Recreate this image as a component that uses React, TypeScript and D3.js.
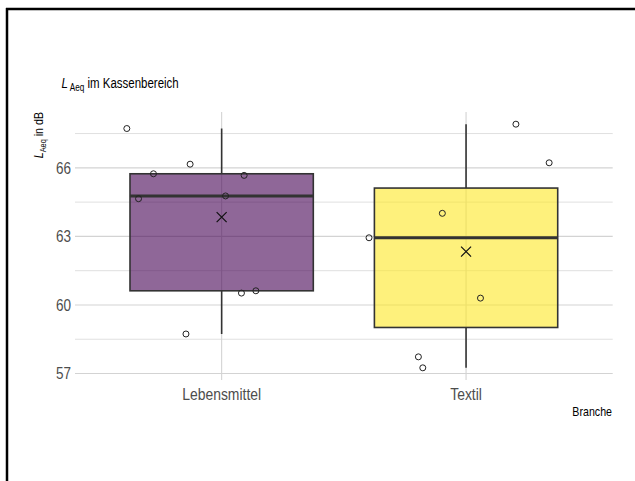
import React from "react";
import * as d3 from "d3";

// Measured L_Aeq values (dB) per branch, with fixed horizontal jitter offsets (in category-step units)
const categories = ["Lebensmittel", "Textil"];
const lebensmittelValues = [67.72, 65.74, 66.16, 65.67, 64.65, 64.77, 60.52, 60.62, 58.73];
const lebensmittelJitter = [-0.388, -0.279, -0.129, 0.092, -0.34, 0.016, 0.081, 0.14, -0.146];
const textilValues = [67.91, 66.22, 64.01, 62.94, 60.3, 57.73, 57.25];
const textilJitter = [0.204, 0.34, -0.097, -0.397, 0.059, -0.195, -0.177];
const yTicks = [57, 60, 63, 66];
const yMinorTicks = [58.5, 61.5, 64.5, 67.5];
const fills = ["#440154", "#FDE725"];

const W = 635;
const H = 481;
const panel = { left: 75, right: 612.7, top: 112, bottom: 380 };
const FONT = "'Liberation Sans', Arial, sans-serif";
// horizontal condensing factor for a narrow sans look
const NARROW = 0.82;

const groups = [
  { name: categories[0], values: lebensmittelValues, jitter: lebensmittelJitter, fill: fills[0] },
  { name: categories[1], values: textilValues, jitter: textilJitter, fill: fills[1] },
];

function boxStats(values: number[]) {
  const s = [...values].sort(d3.ascending);
  const q1 = d3.quantile(s, 0.25)!;
  const med = d3.quantile(s, 0.5)!;
  const q3 = d3.quantile(s, 0.75)!;
  const iqr = q3 - q1;
  const lo = d3.min(s.filter((v) => v >= q1 - 1.5 * iqr))!;
  const hi = d3.max(s.filter((v) => v <= q3 + 1.5 * iqr))!;
  return { q1, med, q3, lo, hi, mean: d3.mean(s)! };
}

function NText({ x, y, rotate = 0, children, ...rest }: any) {
  return (
    <g transform={`translate(${x},${y}) rotate(${rotate}) scale(${NARROW},1)`}>
      <text fontFamily={FONT} {...rest}>
        {children}
      </text>
    </g>
  );
}

export default function App() {
  const all = [...lebensmittelValues, ...textilValues];
  const [mn, mx] = d3.extent(all) as [number, number];
  const pad = (mx - mn) * 0.05;
  const y = d3.scaleLinear().domain([mn - pad, mx + pad]).range([panel.bottom, panel.top]);
  const x = d3.scalePoint<string>().domain(categories).range([panel.left, panel.right]).padding(0.6);
  const step = x.step();
  const boxW = step * 0.75;

  return (
    <div style={{ position: "absolute", left: 0, top: 0 }}>
      <svg width={W} height={H} style={{ display: "block", background: "#fff" }}>
        {/* frame */}
        <line x1={7} y1={8} x2={7} y2={H} stroke="#000" strokeWidth={2.5} />
        <line x1={6} y1={9} x2={W} y2={9} stroke="#000" strokeWidth={2.5} />

        {/* grid */}
        {yMinorTicks.map((t) => (
          <line key={"mn" + t} x1={panel.left} x2={panel.right} y1={y(t)} y2={y(t)} stroke="#DCDCDC" strokeWidth={0.9} />
        ))}
        {yTicks.map((t) => (
          <line key={"mj" + t} x1={panel.left} x2={panel.right} y1={y(t)} y2={y(t)} stroke="#D3D3D3" strokeWidth={1.1} />
        ))}
        {categories.map((c) => (
          <line key={"vx" + c} x1={x(c)} x2={x(c)} y1={panel.top} y2={panel.bottom} stroke="#D3D3D3" strokeWidth={1.1} />
        ))}

        {/* boxplots */}
        {groups.map((g) => {
          const st = boxStats(g.values);
          const cx = x(g.name)!;
          return (
            <g key={g.name}>
              <line x1={cx} x2={cx} y1={y(st.q3)} y2={y(st.hi)} stroke="#333" strokeWidth={1.6} />
              <line x1={cx} x2={cx} y1={y(st.q1)} y2={y(st.lo)} stroke="#333" strokeWidth={1.6} />
              <rect
                x={cx - boxW / 2}
                y={y(st.q3)}
                width={boxW}
                height={y(st.q1) - y(st.q3)}
                fill={g.fill}
                fillOpacity={0.6}
                stroke="#333"
                strokeWidth={1.6}
              />
              <line x1={cx - boxW / 2} x2={cx + boxW / 2} y1={y(st.med)} y2={y(st.med)} stroke="#333" strokeWidth={3} />
              {g.values.map((v, i) => (
                <circle key={i} cx={cx + g.jitter[i] * step} cy={y(v)} r={3} fill="none" stroke="#222" strokeWidth={1} />
              ))}
              <path
                d={`M${cx - 5},${y(st.mean) - 5}L${cx + 5},${y(st.mean) + 5}M${cx - 5},${y(st.mean) + 5}L${cx + 5},${y(st.mean) - 5}`}
                stroke="#111"
                strokeWidth={1.2}
              />
            </g>
          );
        })}

        {/* y tick labels */}
        {yTicks.map((t) => (
          <NText key={"yl" + t} x={71} y={y(t)} dy="0.36em" textAnchor="end" fontSize={16.5} fill="#4D4D4D">
            {t}
          </NText>
        ))}
        {/* x tick labels */}
        {categories.map((c) => (
          <NText key={"xl" + c} x={x(c)} y={399.5} textAnchor="middle" fontSize={17} fill="#4D4D4D">
            {c}
          </NText>
        ))}

        {/* axis titles */}
        <NText x={612} y={416} textAnchor="end" fontSize={13} fill="#000">
          Branche
        </NText>
        <NText x={43} y={panel.top} rotate={-90} textAnchor="end" fontSize={13} fill="#000">
          <tspan fontStyle="italic">L</tspan>
          <tspan fontSize={9} dy={3}>Aeq</tspan>
          <tspan dy={-3}> in dB</tspan>
        </NText>

        {/* title */}
        <NText x={61.5} y={88} fontSize={14} fill="#000">
          <tspan fontStyle="italic">L</tspan>
          <tspan fontSize={10} dy={3}> Aeq</tspan>
          <tspan dy={-3}> im Kassenbereich</tspan>
        </NText>
      </svg>
    </div>
  );
}
